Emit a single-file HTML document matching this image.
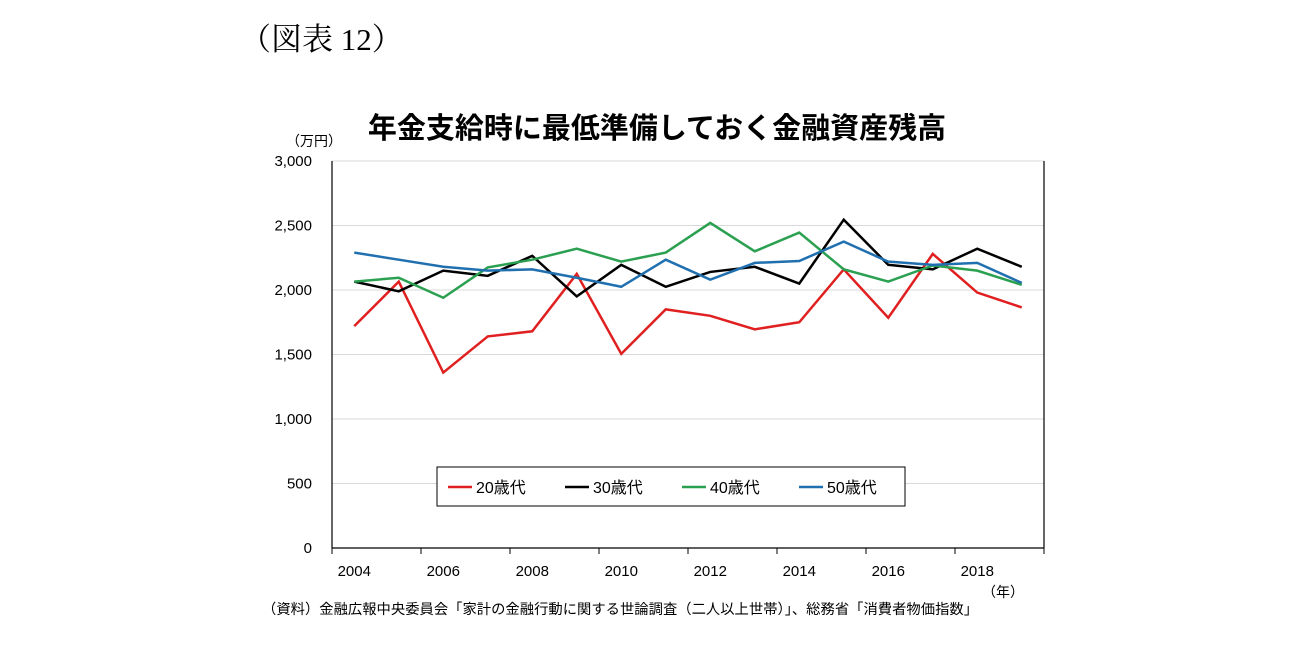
<!DOCTYPE html>
<html><head><meta charset="utf-8"><style>
body{margin:0;background:#fff;width:1295px;height:645px;overflow:hidden;font-family:"Liberation Sans","Noto Sans CJK JP",sans-serif}
</style></head><body>
<svg width="1295" height="645">
<text x="240" y="50" font-family="Liberation Serif,'Noto Serif CJK SC',serif" font-size="31">（図表 12）</text>
<text x="657" y="138" text-anchor="middle" font-size="29" font-weight="bold" font-family="Liberation Sans,'Noto Sans CJK JP',sans-serif">年金支給時に最低準備しておく金融資産残高</text>
<text x="286" y="146" font-size="14" font-family="Liberation Sans,'Noto Sans CJK JP',sans-serif">（万円）</text>
<text x="982" y="597" font-size="14" font-family="Liberation Sans,'Noto Sans CJK JP',sans-serif">（年）</text>
<text x="262" y="614" font-size="14.3" textLength="716" font-family="Liberation Sans,'Noto Sans CJK JP',sans-serif">（資料）金融広報中央委員会「家計の金融行動に関する世論調査（二人以上世帯）」、総務省「消費者物価指数」</text>
<g id="grid"></g><g id="axes"></g><g id="series"></g>
<g>
<rect x="437" y="467" width="468" height="39" fill="#fff" stroke="#000" stroke-width="1"/>
<g id="legend"></g>
</g>
</svg>
<script>
const years=["2004","2005","2006","2007","2008","2009","2010","2011","2012","2013","2014","2015","2016","2017","2018","2019"];
const yTicks=[0,500,1000,1500,2000,2500,3000];
const s20=[1720,2065,1360,1640,1680,2125,1505,1850,1800,1695,1750,2160,1785,2280,1980,1865];
const s30=[2065,1990,2150,2110,2265,1950,2195,2025,2140,2180,2050,2545,2195,2160,2320,2180];
const s40=[2065,2095,1940,2175,2235,2320,2220,2290,2520,2300,2445,2160,2065,2190,2150,2040];
const s50=[2290,2235,2180,2150,2160,2095,2025,2235,2080,2210,2225,2375,2220,2195,2210,2055];
const names=["20歳代","30歳代","40歳代","50歳代"];
const colors=["#e02020","#000000","#2aa050","#2070b0"];
const X0=332,X1=1044,Y0=548,Y1=161,NS="http://www.w3.org/2000/svg";
const bw=(X1-X0)/years.length;
const xs=i=>X0+bw*(i+0.5);
const ys=v=>Y0-(v/3000)*(Y0-Y1);
function mk(t,a,p){const e=document.createElementNS(NS,t);for(const k in a)e.setAttribute(k,a[k]);p.appendChild(e);return e;}
const grid=document.getElementById('grid'),axes=document.getElementById('axes'),ser=document.getElementById('series'),leg=document.getElementById('legend');
yTicks.forEach(v=>{
 if(v>0){const l=mk('line',{x1:X0,x2:X1,y1:ys(v),y2:ys(v),stroke:'#d9d9d9','stroke-width':1},grid);
 
 }
 const t=mk('text',{x:X0-20,y:ys(v)+5,'text-anchor':'end','font-size':15},axes);t.textContent=v.toLocaleString('en-US');
 
 
});
const ya=mk('line',{x1:X0,x2:X0,y1:Y1,y2:Y0,stroke:'#000','stroke-width':1.2},axes);


const rb=mk('line',{x1:X1,x2:X1,y1:Y1,y2:Y0,stroke:'#000','stroke-width':1.2},axes);


const xa=mk('line',{x1:X0,x2:X1,y1:Y0,y2:Y0,stroke:'#000','stroke-width':1.2},axes);


for(let i=0;i<=years.length;i+=2){mk('line',{x1:X0+bw*i,x2:X0+bw*i,y1:Y0,y2:Y0+6,stroke:'#000'},axes);}
years.forEach((y,i)=>{if(i%2==0){const t=mk('text',{x:xs(i),y:Y0+28,'text-anchor':'middle','font-size':15},axes);t.textContent=y;
 
 }});
[s20,s30,s40,s50].forEach((s,k)=>{
 const p=mk('polyline',{points:s.map((v,i)=>xs(i)+','+ys(v)).join(' '),fill:'none',stroke:colors[k],'stroke-width':2.5},ser);
 
 
 const lx=448+k*117;
 mk('line',{x1:lx,x2:lx+24,y1:487,y2:487,stroke:colors[k],'stroke-width':2.5},leg);
 const t=mk('text',{x:lx+28,y:493,'font-size':16},leg);t.textContent=names[k];
 
 
});
</script>
</body></html>
